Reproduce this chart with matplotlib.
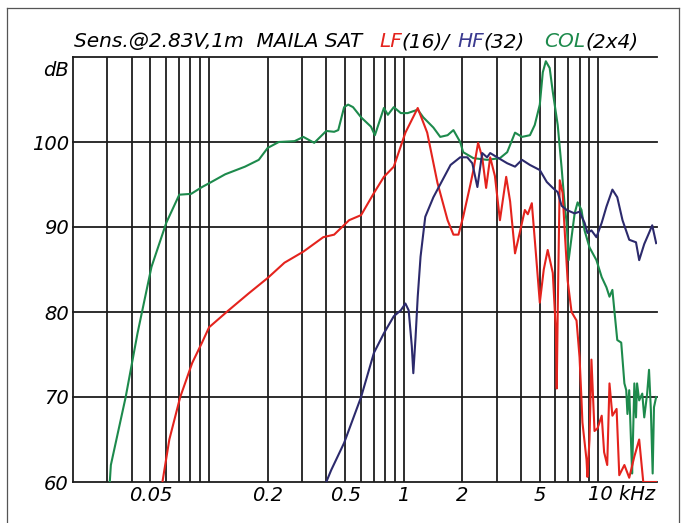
import matplotlib
matplotlib.use('Agg')
import matplotlib.pyplot as plt
from matplotlib.lines import Line2D
from matplotlib.transforms import blended_transform_factory

# frequency in kHz, level in dB
col_f = [0.0309, 0.0313, 0.0373, 0.0429, 0.0506, 0.0603, 0.0703, 0.0809, 0.092, 0.101,
         0.121, 0.153, 0.180, 0.200, 0.228, 0.275, 0.305, 0.347, 0.400, 0.439,
         0.461, 0.494, 0.518, 0.549, 0.604, 0.679, 0.711, 0.791, 0.829, 0.889,
         0.966, 1.048, 1.18, 1.26, 1.42, 1.54, 1.68, 1.80, 1.95, 2.02,
         2.28, 2.68, 3.12, 3.40, 3.73, 4.05, 4.45, 4.71, 5.0, 5.18,
         5.37, 5.62, 5.83, 6.18, 6.47, 6.71, 6.87, 7.03, 7.55, 7.82,
         8.19, 8.49, 9.0, 9.77, 10.4, 11.0, 11.4, 11.8, 12.1, 12.5,
         13.1, 13.6, 13.9, 14.1, 14.4, 14.7, 14.9, 15.3, 15.6, 15.8,
         16.2, 16.8, 17.2, 17.8, 18.2, 18.6, 19.0, 19.3, 19.8]
col_db = [60.0, 62.0, 70.0, 77.5, 85.3, 90.5, 93.8, 93.9, 94.7, 95.2,
          96.2, 97.1, 97.9, 99.3, 100.0, 100.1, 100.6, 99.9, 101.3, 101.2,
          101.4, 104.1, 104.4, 104.1, 102.9, 101.8, 100.8, 104.0, 103.2, 104.1,
          103.4, 103.4, 103.8, 102.9, 101.7, 100.6, 100.8, 101.4, 100.0, 98.8,
          98.1, 97.9, 98.1, 98.8, 101.1, 100.6, 100.8, 102.0, 104.4, 108.2,
          109.5, 108.7, 105.9, 102.0, 97.0, 92.6, 90.5, 86.1, 91.6, 92.9,
          92.0, 89.6, 87.6, 86.1, 84.1, 82.9, 81.8, 82.6, 80.0, 76.7,
          76.4, 71.6, 70.8, 68.0, 70.8, 64.9, 61.0, 71.6, 67.6, 71.6,
          69.6, 70.4, 67.6, 70.4, 73.2, 68.5, 61.0, 68.8, 70.0]

lf_f = [0.0576, 0.0625, 0.0711, 0.0819, 0.092, 0.100, 0.126, 0.160, 0.200, 0.244,
        0.305, 0.386, 0.439, 0.524, 0.604, 0.703, 0.791, 0.889, 1.02, 1.18,
        1.32, 1.49, 1.68, 1.80, 1.91, 2.02, 2.20, 2.28, 2.41, 2.53,
        2.65, 2.78, 2.94, 3.12, 3.36, 3.52, 3.73, 3.96, 4.19, 4.34,
        4.55, 4.77, 5.0, 5.24, 5.49, 5.83, 6.04, 6.11, 6.18, 6.33,
        6.55, 6.71, 6.95, 7.28, 7.72, 8.0, 8.19, 8.28, 8.69, 8.78,
        9.0, 9.21, 9.55, 9.89, 10.4, 10.7, 11.1, 11.4, 11.8, 12.4,
        12.8, 13.6, 14.4, 15.3, 16.2, 17.0, 19.8]
lf_db = [60.0, 65.0, 70.0, 74.0, 76.4, 78.2, 80.2, 82.2, 84.0, 85.8,
         87.1, 88.8, 89.1, 90.8, 91.4, 94.0, 95.9, 97.1, 101.1, 104.0,
         101.1, 95.2, 90.8, 89.1, 89.1, 91.2, 95.0, 96.7, 99.9, 98.2,
         94.6, 98.2, 96.0, 90.8, 95.9, 93.0, 86.9, 89.5, 92.0, 91.5,
         92.8, 87.0, 81.1, 85.0, 87.3, 84.6, 78.0, 71.0, 80.0, 95.5,
         94.0, 89.6, 83.7, 80.0, 79.0, 74.7, 69.6, 67.0, 62.6, 60.6,
         65.0, 74.4, 66.0, 66.3, 67.8, 63.5, 62.0, 71.6, 67.8, 68.6,
         60.8, 62.0, 60.5, 63.0, 65.0, 60.0, 60.0]

hf_f = [0.400, 0.424, 0.494, 0.604, 0.703, 0.791, 0.889, 0.966, 1.02, 1.06,
        1.10, 1.12, 1.15, 1.18, 1.22, 1.29, 1.42, 1.58, 1.74, 1.95,
        2.12, 2.25, 2.39, 2.53, 2.68, 2.78, 3.02, 3.40, 3.73, 4.05,
        4.45, 5.0, 5.43, 5.83, 6.18, 6.47, 6.87, 7.55, 8.0, 8.49,
        8.79, 9.21, 9.77, 10.4, 11.0, 11.8, 12.5, 13.3, 14.4, 15.6,
        16.2, 17.2, 18.2, 18.9, 19.8]
hf_db = [60.0, 61.4, 64.6, 70.0, 75.2, 77.5, 79.5, 80.2, 81.0, 80.2,
         76.0, 72.8, 77.0, 81.8, 86.5, 91.2, 93.5, 95.5, 97.3, 98.2,
         98.2, 97.5, 94.7, 98.7, 98.2, 98.7, 98.2, 97.5, 97.1, 97.9,
         97.3, 96.7, 95.3, 94.6, 94.1, 92.5, 92.0, 91.6, 91.8, 90.5,
         89.3, 89.6, 88.8, 90.5, 92.4, 94.4, 93.5, 90.8, 88.5, 88.2,
         86.1, 88.0, 89.3, 90.2, 88.1]

y_ticks = [60, 70, 80, 90, 100]
x_ticks = [0.05, 0.2, 0.5, 1, 2, 5]
x_ticklabels = ['0.05', '0.2', '0.5', '1', '2', '5']
grid_freqs = [m * d for d in (0.01, 0.1, 1.0) for m in range(1, 10)] + [10.0]

green = '#1d8a4c'
red = '#e4231d'
navy = '#2c2a6c'
grid_col = '#1c1c1c'

fig = plt.figure(figsize=(6.83, 5.23), dpi=100)
W, H = 683, 523
ax = fig.add_axes([73 / W, 1 - 482 / H, (657 - 73) / W, (482 - 57) / H])
ax.set_xscale('log')
ax.set_xlim(0.02, 20)
ax.set_ylim(60, 110)

# grid
for f in grid_freqs:
    if 0.02 < f <= 10:
        ax.axvline(f, color=grid_col, lw=1.3, zorder=1)
for y in range(60, 111, 10):
    ax.axhline(y, color=grid_col, lw=1.3, zorder=1, clip_on=False)

for s in ['top', 'right', 'bottom']:
    ax.spines[s].set_visible(False)
ax.spines['left'].set_color(grid_col)
ax.spines['left'].set_linewidth(1.3)

ax.plot(col_f, col_db, color=green, lw=1.5, zorder=3)
ax.plot(lf_f, lf_db, color=red, lw=1.5, zorder=4)
ax.plot(hf_f, hf_db, color=navy, lw=1.5, zorder=5)

ax.set_yticks(y_ticks)
ax.set_yticklabels([str(v) for v in y_ticks], fontsize=14, style='italic')
ax.set_xticks(x_ticks)
ax.set_xticklabels(x_ticklabels, fontsize=14, style='italic')
ax.xaxis.set_minor_locator(plt.NullLocator())
ax.tick_params(length=0, pad=3)

tr = blended_transform_factory(ax.transData, ax.transAxes)
ax.text(8.8, -0.007, '10 kHz', transform=tr, fontsize=14, style='italic',
        ha='left', va='top')
fig.text(69 / W, 1 - 70 / H, 'dB', fontsize=14, style='italic', ha='right', va='center')

# title in coloured pieces; each starts at its spot in the original, never overlapping
pieces = [('Sens.@2.83V,1m  MAILA SAT', 74, 'black'), ('LF', 379, red),
          ('(16)/', 399, 'black'), ('HF', 457, '#3b3a90'), ('(32)', 475, 'black'),
          ('COL', 544, green), ('(2x4)', 580, 'black')]
fig.canvas.draw()
renderer = fig.canvas.get_renderer()
end_px = 0
for txt, px, c in pieces:
    x_px = max(px, end_px)
    t = fig.text(x_px / W, 1 - 47 / H, txt, fontsize=14.5, style='italic', color=c,
                 ha='left', va='baseline')
    end_px = x_px + t.get_window_extent(renderer).width

# outer frame
for xs, ys in [([7, 7], [8, 523]), ([7, 679], [8, 8]), ([679, 679], [8, 523])]:
    fig.add_artist(Line2D([x / W for x in xs], [1 - y / H for y in ys],
                          color='#555555', lw=0.9))

fig.savefig('out.png', dpi=100)
